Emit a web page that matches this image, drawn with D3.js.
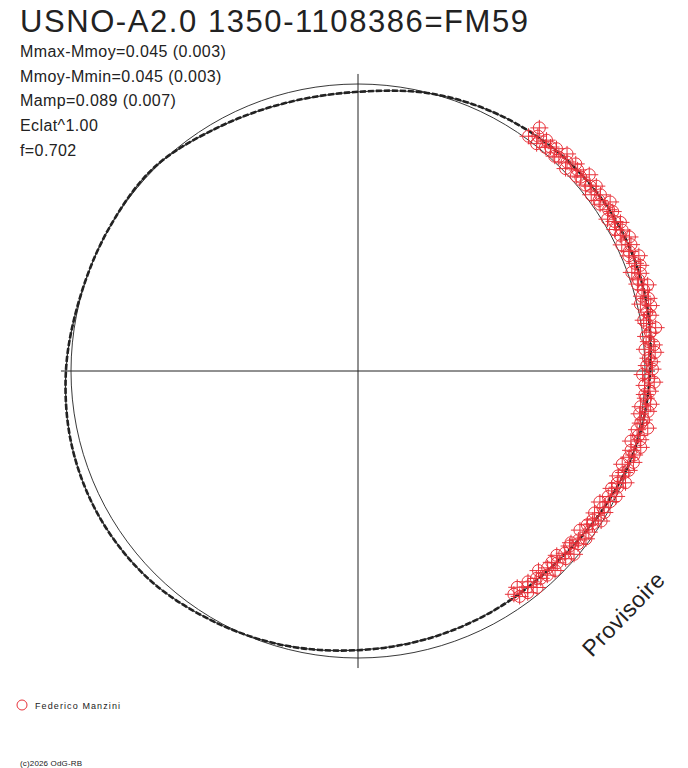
<!DOCTYPE html>
<html>
<head>
<meta charset="utf-8">
<script src="https://cdn.jsdelivr.net/npm/d3@7"></script>
<style>
  body { margin: 0; background: #fff; }
  text { font-family: Arial, "Liberation Sans", sans-serif; fill: #222; }
</style>
</head>
<body>
<div id="chart"></div>
<script>
// texts
let title = 'USNO-A2.0 1350-1108386=FM59';
let infoLines = ['Mmax-Mmoy=0.045 (0.003)', 'Mmoy-Mmin=0.045 (0.003)', 'Mamp=0.089 (0.007)', 'Eclat^1.00', 'f=0.702'];
let observer = 'Federico Manzini';
let credit = '(c)2026 OdG-RB';
let stamp = 'Provisoire';

// fitted curve, phase / delta mag
let fitPhase = [0, 0.0417, 0.0833, 0.125, 0.1667, 0.2083, 0.25, 0.2917, 0.3333, 0.375, 0.4167, 0.4583,
                0.5, 0.5417, 0.5833, 0.625, 0.6667, 0.7083, 0.75, 0.7917, 0.8333, 0.875, 0.9167, 0.9583];
let fitMag = [-0.019, -0.037, -0.043, -0.037, -0.022, 0.000, 0.030, 0.036, 0.023, -0.004, 0.000, -0.002,
              -0.019, -0.033, -0.037, -0.030, -0.008, 0.011, 0.030, 0.040, 0.045, 0.044, 0.023, -0.004];

// observations, phase / delta mag
let ptPhase = [0.847,0.849,0.851,0.854,0.856,0.858,0.860,0.863,0.865,0.867,
               0.869,0.872,0.874,0.876,0.878,0.881,0.883,0.885,0.888,0.890,
               0.892,0.894,0.896,0.899,0.901,0.903,0.906,0.908,0.910,0.912,
               0.914,0.917,0.919,0.921,0.924,0.926,0.928,0.931,0.933,0.935,
               0.937,0.939,0.942,0.944,0.946,0.949,0.951,0.953,0.955,0.958,
               0.960,0.962,0.964,0.967,0.969,0.971,0.973,0.976,0.978,0.980,
               0.982,0.985,0.987,0.989,0.992,0.994,0.996,0.998,0.001,0.003,
               0.005,0.007,0.010,0.012,0.014,0.016,0.019,0.021,0.023,0.026,
               0.028,0.030,0.032,0.035,0.037,0.039,0.041,0.044,0.046,0.048,
               0.050,0.053,0.055,0.057,0.059,0.062,0.064,0.066,0.069,0.071,
               0.073,0.076,0.078,0.080,0.082,0.084,0.087,0.089,0.091,0.094,
               0.096,0.098,0.100,0.103,0.105,0.107,0.109,0.112,0.114,0.116,
               0.118,0.121,0.123,0.125,0.128,0.130,0.132,0.134,0.137,0.139,
               0.141,0.144,0.146,0.148,0.150];
let ptMag = [0.057,0.037,0.072,0.030,0.048,0.063,0.023,0.052,0.041,0.070,
             0.033,0.053,0.025,0.057,0.040,0.062,0.027,0.044,0.014,0.048,
             0.052,0.028,0.035,0.015,0.054,0.021,0.042,0.027,0.034,0.005,
             0.043,0.011,0.025,0.046,0.011,0.027,0.000,0.029,0.010,0.017,
             -0.011,0.025,0.008,-0.005,0.026,-0.012,0.009,-0.006,0.010,-0.022,
             0.020,-0.013,-0.003,0.007,-0.031,-0.002,-0.011,0.008,-0.022,0.008,
             -0.028,-0.008,-0.003,-0.021,0.000,-0.035,-0.015,0.009,-0.028,-0.007,
             -0.025,-0.014,-0.040,-0.003,-0.037,-0.020,-0.012,-0.029,-0.051,-0.020,
             -0.012,-0.039,-0.029,-0.048,-0.012,-0.046,-0.025,-0.037,-0.056,-0.021,
             -0.030,-0.044,-0.015,-0.053,-0.038,-0.061,-0.027,-0.035,-0.051,-0.020,
             -0.058,-0.031,-0.046,-0.025,-0.054,-0.037,-0.019,-0.050,-0.041,-0.061,
             -0.026,-0.031,-0.047,-0.020,-0.054,-0.036,-0.026,-0.060,-0.031,-0.021,
             -0.040,-0.050,-0.011,-0.032,-0.053,-0.024,-0.016,-0.041,-0.031,-0.018,
             -0.041,-0.008,-0.033,-0.060,-0.012];

let w = 688, h = 768;
let cx = 358, cy = 371, R = 287;
let red = '#e8323a';

let svg = d3.select('#chart').append('svg')
    .attr('width', w)
    .attr('height', h);

// radius follows brightness (Eclat^1.00)
let flux = m => Math.pow(10, -0.4 * m);
let rScale = d3.scaleLinear().domain([0, 1]).range([0, R]);
let aScale = d3.scaleLinear().domain([0, 1]).range([0, 2 * Math.PI]);

let px = (p, m) => cx + rScale(flux(m)) * Math.cos(aScale(p));
let py = (p, m) => cy - rScale(flux(m)) * Math.sin(aScale(p));

let plot = svg.append('g');

// axes
let ext = rScale(1.035);
plot.append('line')
    .attr('x1', cx - ext).attr('x2', cx + ext)
    .attr('y1', cy).attr('y2', cy)
    .attr('stroke', '#222').attr('stroke-width', 1);
plot.append('line')
    .attr('x1', cx).attr('x2', cx)
    .attr('y1', cy - ext).attr('y2', cy + ext)
    .attr('stroke', '#222').attr('stroke-width', 1);

// mean circle
plot.append('circle')
    .attr('cx', cx).attr('cy', cy)
    .attr('r', rScale(1))
    .attr('fill', 'none')
    .attr('stroke', '#222')
    .attr('stroke-width', 0.9);

// fit
let fitData = fitPhase.map((p, i) => ({phase: p, mag: fitMag[i]}));
let radial = d3.lineRadial()
    .angle(d => Math.PI / 2 - aScale(d.phase))
    .radius(d => rScale(flux(d.mag)))
    .curve(d3.curveCardinalClosed);

let fitG = plot.append('g').attr('transform', `translate(${cx},${cy})`);
fitG.append('path')
    .attr('d', radial(fitData))
    .attr('fill', 'none')
    .attr('stroke', '#333')
    .attr('stroke-width', 1.2);
fitG.append('path')
    .attr('d', radial(fitData))
    .attr('fill', 'none')
    .attr('stroke', '#222')
    .attr('stroke-width', 2.6)
    .attr('stroke-dasharray', '6,2');

// observations
let pts = ptPhase.map((p, i) => ({phase: p, mag: ptMag[i]}));
let marks = plot.append('g')
    .selectAll('g')
    .data(pts)
    .join('g')
    .attr('transform', d => `translate(${px(d.phase, d.mag)},${py(d.phase, d.mag)})`)
    .attr('stroke', red)
    .attr('stroke-width', 1)
    .attr('fill', 'none');
marks.append('circle').attr('r', 6);
marks.append('line').attr('x1', -9).attr('x2', 9);
marks.append('line').attr('y1', -8).attr('y2', 8);

// header
svg.append('text')
    .attr('x', 20).attr('y', 32)
    .attr('font-size', 31)
    .attr('textLength', 508)
    .attr('lengthAdjust', 'spacing')
    .text(title);

svg.append('g')
    .selectAll('text')
    .data(infoLines)
    .join('text')
    .attr('x', 20)
    .attr('y', (d, i) => 57 + i * 24.7)
    .attr('font-size', 16)
    .attr('letter-spacing', 0.4)
    .text(d => d);

// stamp
svg.append('text')
    .attr('transform', 'translate(592,658) rotate(-46)')
    .attr('font-size', 23)
    .attr('letter-spacing', 0.5)
    .text(stamp);

// legend
svg.append('circle')
    .attr('cx', 22).attr('cy', 705).attr('r', 5)
    .attr('fill', 'none').attr('stroke', red);
svg.append('text')
    .attr('x', 35).attr('y', 709)
    .attr('font-size', 9)
    .attr('textLength', 85)
    .attr('lengthAdjust', 'spacing')
    .text(observer);

svg.append('text')
    .attr('x', 20).attr('y', 766)
    .attr('font-size', 8)
    .attr('textLength', 62)
    .attr('lengthAdjust', 'spacing')
    .text(credit);
</script>
</body>
</html>
